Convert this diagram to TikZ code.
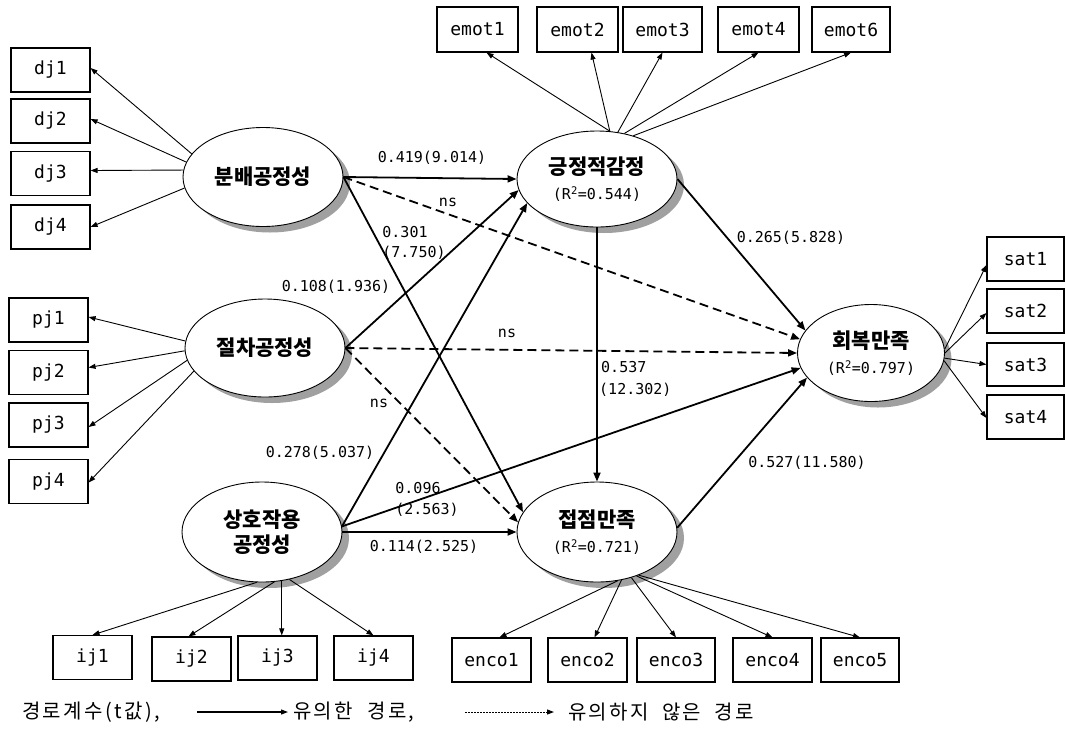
\documentclass[tikz,border=0pt]{standalone}
\usepackage{fontspec}
\setmainfont{DejaVu Sans}
\newfontfamily\kr{Noto Sans CJK KR}
\newfontfamily\krl[LetterSpace=12]{Noto Sans CJK KR}
\newfontfamily\mono{DejaVu Sans Mono}
\usetikzlibrary{arrows.meta,shapes.geometric,calc}
\newcommand{\kt}[1]{{\kr\bfseries\fontsize{21}{24}\selectfont #1}}
\newcommand{\rr}[1]{{\mono\fontsize{15}{18}\selectfont #1}}
\definecolor{shadowgray}{RGB}{160,160,160}
\tikzset{
  obs/.style={draw, line width=1.1pt, minimum width=79pt, minimum height=44pt, inner sep=0pt, font=\mono\fontsize{18}{22}\selectfont},
  lat/.style={ellipse, draw, line width=0.9pt, fill=white, minimum width=160pt, minimum height=98pt, inner sep=0pt, align=center,
    font=\fontsize{15}{25}\selectfont},
  shad/.style={ellipse, draw=none, fill=shadowgray, inner sep=0pt, minimum width=160pt, minimum height=98pt},
  load/.style={line width=0.9pt, -{Triangle[length=7pt,width=5pt]}},
  sig/.style={line width=1.8pt, -{Triangle[length=9pt,width=7pt]}},
  nsig/.style={sig, dash pattern=on 9pt off 5pt},
  coef/.style={font=\mono\fontsize{15}{18}\selectfont, inner sep=0pt},
  leg/.style={font=\krl\fontsize{20}{24}\selectfont, inner sep=0pt, anchor=west},
}
\begin{document}
\begin{tikzpicture}[x=1pt, y=-1pt]
\useasboundingbox (0,0) rectangle (1066,740);
\fill[white] (0,0) rectangle (1066,740);

% centres of the latent variables
\coordinate (Bc) at (263,177);
\coordinate (Cc) at (265,348);
\coordinate (Dc) at (262,532);
\coordinate (Ec) at (597,179);
\coordinate (Fc) at (871,353);
\coordinate (Gc) at (597,532);

% shadows
\node[shad, minimum height=99pt] (Bs) at ($(Bc)+(7,6)$) {};
\node[shad] (Cs) at ($(Cc)+(7,6)$) {};
\node[shad, minimum height=100pt] (Ds) at ($(Dc)+(7,6)$) {};
\node[shad, minimum height=96pt] (Es) at ($(Ec)+(7,6)$) {};
\node[shad, minimum width=147pt, minimum height=97pt] (Fs) at ($(Fc)+(7,6)$) {};
\node[shad, minimum height=100pt] (Gs) at ($(Gc)+(7,6)$) {};

% observed indicators
\node[obs] (dj1) at (50.5,70) {dj1};
\node[obs] (dj2) at (50.5,121) {dj2};
\node[obs] (dj3) at (50.5,173.5) {dj3};
\node[obs] (dj4) at (50.5,227) {dj4};
\node[obs] (pj1) at (48.5,320) {pj1};
\node[obs] (pj2) at (48.5,372.5) {pj2};
\node[obs] (pj3) at (48.5,425) {pj3};
\node[obs] (pj4) at (48.5,481.5) {pj4};
\node[obs] (ij1) at (92.5,657.5) {ij1};
\node[obs] (ij2) at (191.5,659) {ij2};
\node[obs] (ij3) at (277.5,658) {ij3};
\node[obs] (ij4) at (373.5,658) {ij4};
\node[obs, minimum width=81pt, minimum height=45pt] (emot1) at (477.5,29.5) {emot1};
\node[obs, minimum width=81pt, minimum height=45pt] (emot2) at (577.5,29.5) {emot2};
\node[obs, minimum width=79pt, minimum height=45pt] (emot3) at (662.5,29.5) {emot3};
\node[obs, minimum width=81pt, minimum height=45pt] (emot4) at (758.5,29.5) {emot4};
\node[obs, minimum width=78pt, minimum height=45pt] (emot6) at (851,29.5) {emot6};
\node[obs, minimum width=77pt] (sat1) at (1025.5,259) {sat1};
\node[obs, minimum width=77pt] (sat2) at (1025.5,311) {sat2};
\node[obs, minimum width=77pt, minimum height=43pt] (sat3) at (1025.5,364.5) {sat3};
\node[obs, minimum width=77pt] (sat4) at (1025.5,417) {sat4};
\node[obs] (enco1) at (491.5,660) {enco1};
\node[obs] (enco2) at (587.5,660) {enco2};
\node[obs, minimum width=78pt] (enco3) at (676,660) {enco3};
\node[obs] (enco4) at (772.5,660) {enco4};
\node[obs, minimum width=78pt] (enco5) at (860,660) {enco5};

% latent variables
\node[lat, minimum height=99pt] (B) at (Bc) {\kt{분배공정성}};
\node[lat] (C) at (Cc) {\kt{절차공정성}};
\node[lat, minimum height=100pt] (D) at (Dc) {\kt{상호작용}\\\kt{공정성}};
\node[lat, minimum height=96pt] (E) at (Ec) {\kt{긍정적감정}\\\rr{(R\textsuperscript{2}=0.544)}};
\node[lat, minimum width=147pt, minimum height=97pt] (F) at (Fc) {\kt{회복만족}\\\rr{(R\textsuperscript{2}=0.797)}};
\node[lat, minimum height=100pt] (G) at (Gc) {\kt{접점만족}\\\rr{(R\textsuperscript{2}=0.721)}};

% measurement paths
\draw[load] (B.162) -- ([yshift=2pt]dj1.east);
\draw[load] (B.169) -- ([yshift=2pt]dj2.east);
\draw[load] (B.175) -- ([yshift=3pt]dj3.east);
\draw[load] (B.188) -- (dj4.east);
\draw[load] (C.175) -- ([yshift=3pt]pj1.east);
\draw[load] (C.182) -- ([yshift=5pt]pj2.east);
\draw[load] (C.189) -- ([yshift=-2pt]pj3.east);
\draw[load] (C.198) -- ([yshift=-1pt]pj4.east);
\draw[load] (D.264) -- (ij1.north);
\draw[load] (D.284) -- ([xshift=-3pt]ij2.north);
\draw[load] (D.292) -- (D.292 |- ij3.north);
\draw[load] (D.300) -- (ij4.north);
\draw[load] (E.75) -- ([xshift=9pt]emot1.south);
\draw[load] (E.75) -- ([xshift=14pt]emot2.south);
\draw[load] (E.66) -- (emot3.south);
\draw[load] (E.59) -- (emot4.south);
\draw[load] (E.50) -- (emot6.south);
\draw[load] (F.3) -- ([yshift=-6pt]sat1.west);
\draw[load] (F.0) -- ([yshift=-2pt]sat2.west);
\draw[load] (F.-4) -- (sat3.west);
\draw[load] (F.-6) -- ([yshift=-1pt]sat4.west);
\draw[load] (G.293) -- ([xshift=8pt]enco1.north);
\draw[load] (G.297) -- ([xshift=7pt]enco2.north);
\draw[load] (G.307) -- (enco3.north);
\draw[load] (G.312) -- (enco4.north);
\draw[load] (G.314) -- (enco5.north);

% structural paths
\draw[sig] (B.east) -- (E.west);
\draw[nsig] (B.east) -- (F.169);
\draw[sig] (B.east) -- (G.165);
\draw[sig] (C.east) -- (E.188);
\draw[nsig] (C.east) -- (F.west);
\draw[nsig] (C.east) -- (G.173);
\draw[sig] (D.4) -- (E.199);
\draw[sig] (D.4) -- (F.192);
\draw[sig] (D.east) -- (G.west);
\draw[sig] (E.east) -- (F.161);
\draw[sig] (E.south) -- (G.north);
\draw[sig] (G.3) -- (F.201);

% coefficients
\node[coef] (c1) at (432,158) {0.419(9.014)};
\node[coef] (c2) at (448,202) {ns};
\node[coef] (c3) at (405,232) {0.301};
\node[coef] (c3b) at (414,253) {(7.750)};
\node[coef] (c4) at (336,287) {0.108(1.936)};
\node[coef] (c5) at (507,333) {ns};
\node[coef] (c6) at (379,403) {ns};
\node[coef] (c7) at (320,453) {0.278(5.037)};
\node[coef] (c8) at (418,488) {0.096};
\node[coef] (c8b) at (427,510) {(2.563)};
\node[coef] (c9) at (424,547) {0.114(2.525)};
\node[coef] (c10) at (791,238) {0.265(5.828)};
\node[coef, anchor=west] (c11) at (601,367) {0.537};
\node[coef, anchor=west] (c11b) at (599,390) {(12.302)};
\node[coef] (c12) at (807,463) {0.527(11.580)};

% legend
\node[leg] (L1) at (22,712) {경로계수(t값),};
\node[leg] (L2) at (293,712) {유의한\hspace{14pt}경로,};
\node[leg] (L3) at (568,712) {유의하지\hspace{13pt}않은\hspace{13pt}경로};
\coordinate (la) at (197,712);
\coordinate (lb) at (288,712);
\coordinate (lc) at (465,712);
\coordinate (ld) at (554,712);
\draw[line width=1.1pt, -{Triangle[length=7pt,width=5pt]}] (la) -- (lb);
\draw[line width=1pt, dash pattern=on 2pt off 1pt, -{Triangle[length=7pt,width=5pt]}] (lc) -- (ld);
\end{tikzpicture}
\end{document}
